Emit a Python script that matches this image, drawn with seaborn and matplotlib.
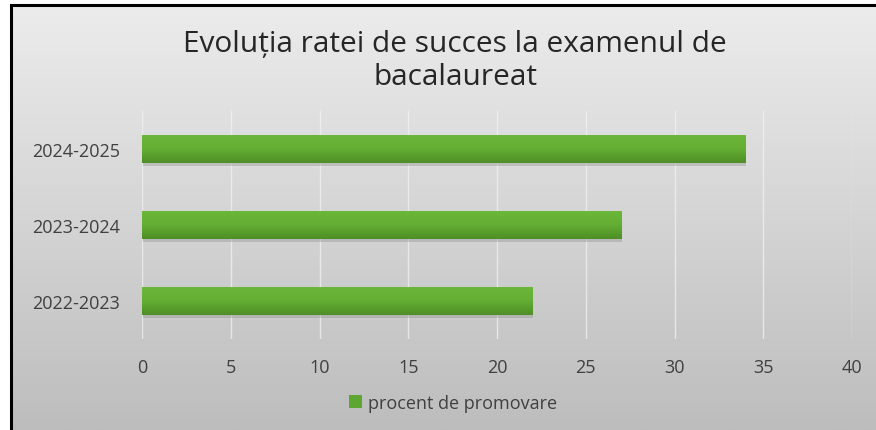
import numpy as np
import pandas as pd
import matplotlib
matplotlib.use("Agg")
import matplotlib.pyplot as plt
from matplotlib.patches import Patch
from matplotlib.lines import Line2D
import seaborn as sns

# Success rate at the baccalaureate exam, by school year
years = ["2024-2025", "2023-2024", "2022-2023"]
pass_rate = [34, 27, 22]
x_ticks = [0, 5, 10, 15, 20, 25, 30, 35, 40]
title = "Evoluția ratei de succes la examenul de\nbacalaureat"
series_name = "procent de promovare"

df = pd.DataFrame({"an": years, "procent": pass_rate})

sns.set_theme(style="white")
plt.rcParams["font.family"] = ["Open Sans", "DejaVu Sans"]

W, H, DPI = 876, 431, 100
fig = plt.figure(figsize=(W / DPI, H / DPI), dpi=DPI)
fig.patch.set_facecolor("white")

# Chart-area background: vertical grey gradient inside a black frame
bg = fig.add_axes([0, 0, 1, 1], zorder=0)
bg.set_xlim(0, W)
bg.set_ylim(H, 0)
bg.axis("off")
grad = np.linspace(0, 1, 256)[:, None]
bg_cmap = matplotlib.colors.LinearSegmentedColormap.from_list("bg", ["#ececec", "#bdbdbd"])
bg.imshow(grad, cmap=bg_cmap, extent=[11, W, H, 6], aspect="auto", interpolation="bilinear")
bg.add_line(Line2D([10.5, 10.5, W], [H, 5.5, 5.5], color="black", lw=2.2, solid_joinstyle="miter"))

ax = fig.add_axes([142 / W, 1 - 340 / H, (852 - 142) / W, (340 - 112) / H], zorder=1)
ax.patch.set_alpha(0)

sns.barplot(data=df, y="an", x="procent", orient="h", color="#5ea632",
            width=0.37, ax=ax, zorder=3, linewidth=0)

# Give each bar a soft shadow and a top-to-bottom green gradient
bar_cmap = matplotlib.colors.LinearSegmentedColormap.from_list("bar", ["#6cb83a", "#64ae33", "#4e8e26"])
for p in list(ax.patches):
    x0, y0 = p.get_x(), p.get_y()
    w, h = p.get_width(), p.get_height()
    shadow = matplotlib.patches.Rectangle((x0 + 0.05, y0 + 0.04), w, h, color="#9a9a9a",
                                          alpha=0.45, zorder=2, lw=0)
    ax.add_patch(shadow)
    im = ax.imshow(grad, cmap=bar_cmap, extent=[x0, x0 + w, y0 + h, y0], aspect="auto",
                   interpolation="bilinear", zorder=4)
    im.set_clip_path(p)

ax.set_xlim(0, 40)
ax.set_ylim(2.5, -0.5)
ax.set_xticks(x_ticks)
ax.set_xticklabels([str(t) for t in x_ticks])
ax.set_xlabel("")
ax.set_ylabel("")
for s in ax.spines.values():
    s.set_visible(False)
ax.grid(axis="x", color="#f2f2f2", lw=1.0, alpha=0.75, zorder=1)
ax.grid(axis="y", visible=False)
ax.tick_params(axis="both", length=0, labelsize=13, labelcolor="#404040")
ax.tick_params(axis="x", pad=14)
ax.tick_params(axis="y", pad=16)

fig.text(455 / W, 1 - 61 / H, title, ha="center", va="center", fontsize=21.5,
         color="#262626", linespacing=1.2)

fig.legend(handles=[Patch(facecolor="#5ea632", edgecolor="none", label=series_name)],
           loc="center", bbox_to_anchor=(453 / W, 1 - 404 / H), frameon=False,
           fontsize=13, handlelength=0.75, handleheight=0.75, handletextpad=0.3,
           labelcolor="#404040")

fig.savefig("out.png", dpi=DPI)
